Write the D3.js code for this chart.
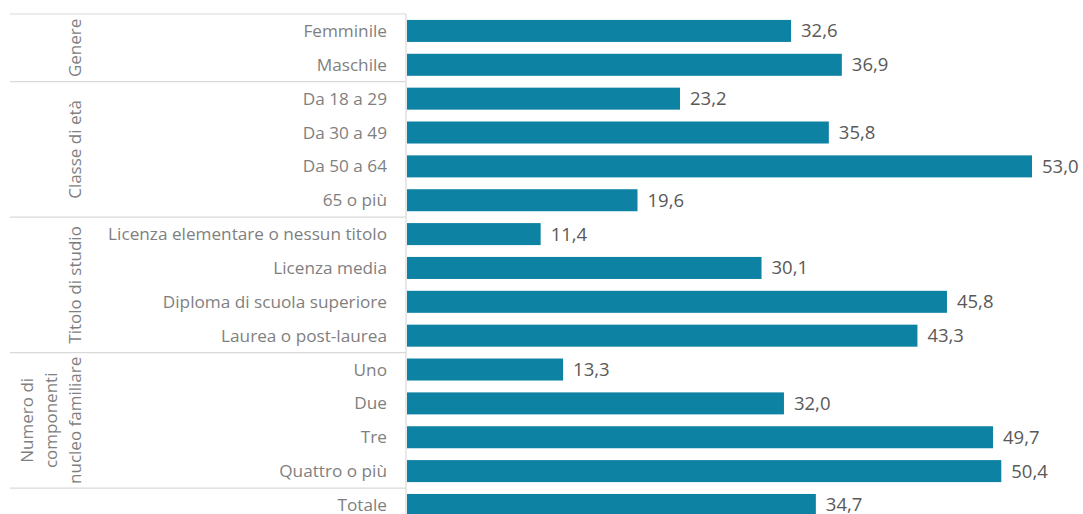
<!DOCTYPE html>
<meta charset="utf-8">
<style>
  body { margin: 0; background: #fff; }
  text { font-family: "Open Sans", "Noto Sans", sans-serif; }
</style>
<svg width="1083" height="514"></svg>
<script src="https://d3js.org/d3.v7.min.js"></script>
<script>
  var categories = ["Femminile", "Maschile", "Da 18 a 29", "Da 30 a 49", "Da 50 a 64", "65 o più",
    "Licenza elementare o nessun titolo", "Licenza media", "Diploma di scuola superiore", "Laurea o post-laurea",
    "Uno", "Due", "Tre", "Quattro o più", "Totale"];
  var values = [32.6, 36.9, 23.2, 35.8, 53.0, 19.6, 11.4, 30.1, 45.8, 43.3, 13.3, 32.0, 49.7, 50.4, 34.7];
  // groups: label lines, first row, number of rows
  var groups = [
    { lines: ["Genere"], start: 0, n: 2 },
    { lines: ["Classe di età"], start: 2, n: 4 },
    { lines: ["Titolo di studio"], start: 6, n: 4 },
    { lines: ["Numero di", "componenti", "nucleo familiare"], start: 10, n: 4 },
    { lines: [], start: 14, n: 1 }
  ];

  var svg = d3.select("svg");
  var left = 406, topY = 14, step = 33.86;

  var y = d3.scaleBand()
    .domain(categories)
    .range([topY, topY + step * categories.length])
    .paddingInner(0.35)
    .paddingOuter(0.175);

  var x = d3.scaleLinear().domain([0, 53]).range([left, 1032]);

  var fmt = function(v) { return d3.format(".1f")(v).replace(".", ","); };

  // separators between groups
  var sep = svg.append("g").attr("stroke", "#d9d9d9").attr("stroke-width", 1.2);
  groups.forEach(function(g) {
    var yy = topY + g.start * step;
    sep.append("line").attr("x1", 10).attr("x2", left).attr("y1", yy).attr("y2", yy);
  });
  sep.append("line").attr("x1", left).attr("x2", left).attr("y1", topY).attr("y2", 514);

  // group labels
  groups.forEach(function(g) {
    if (!g.lines.length) return;
    var cy = topY + (g.start + g.n / 2) * step;
    var cx = 75, lh = 24;
    g.lines.forEach(function(l, i) {
      var lx = cx - (g.lines.length - 1 - i) * lh;
      svg.append("text")
        .attr("transform", "translate(" + lx + "," + cy + ") rotate(-90)")
        .attr("text-anchor", "middle")
        .attr("dy", "0.35em")
        .attr("font-size", 17)
        .attr("fill", "#7f7f7f")
        .text(l);
    });
  });

  // category labels
  svg.append("g").selectAll("text").data(categories).enter().append("text")
    .attr("x", 387)
    .attr("y", function(d) { return y(d) + y.bandwidth() / 2; })
    .attr("dy", "0.35em")
    .attr("text-anchor", "end")
    .attr("font-size", 17.2)
    .attr("fill", "#7f7f7f")
    .text(function(d) { return d; });

  // bars
  svg.append("g").selectAll("rect").data(values).enter().append("rect")
    .attr("x", x(0) + 1)
    .attr("y", function(d, i) { return y(categories[i]); })
    .attr("width", function(d) { return x(d) - x(0) - 1; })
    .attr("height", y.bandwidth())
    .attr("fill", "#0e82a3");

  // value labels
  svg.append("g").selectAll("text").data(values).enter().append("text")
    .attr("x", function(d) { return x(d) + 10; })
    .attr("y", function(d, i) { return y(categories[i]) + y.bandwidth() / 2; })
    .attr("dy", "0.35em")
    .attr("font-size", 18.5)
    .attr("fill", "#595959")
    .text(fmt);
</script>
